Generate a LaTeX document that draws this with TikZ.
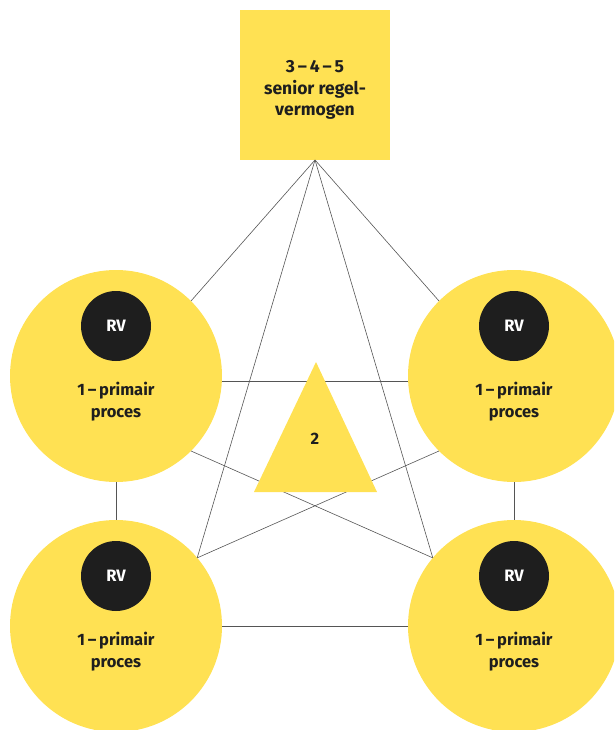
\documentclass[tikz,border=0pt]{standalone}
\usepackage{fontspec}
\setmainfont{Fira Sans}
\definecolor{yel}{RGB}{255,225,83}
\definecolor{dark}{RGB}{30,30,30}
\definecolor{lin}{RGB}{85,85,85}
\begin{document}
\begin{tikzpicture}[x=1pt,y=-1pt,
  bigc/.style={circle,fill=yel,minimum size=212pt,inner sep=0pt,outer sep=0pt},
  rvc/.style={circle,fill=dark,minimum size=70pt,inner sep=0pt,outer sep=0pt,text=white,font=\fontsize{16.5}{18}\selectfont\bfseries},
  lab/.style={align=center,text=dark,font=\fontsize{16.5}{22}\selectfont\bfseries},
  sqlab/.style={align=center,text=dark,font=\fontsize{17.5}{21.5}\selectfont\bfseries},
  conn/.style={draw=lin,line width=0.6pt}]
\useasboundingbox (0,0) rectangle (614,730);
\begin{scope}
\clip (0,0) rectangle (614,730);
\node[fill=yel,minimum size=150pt,inner sep=0pt,outer sep=0pt] (sq) at (315,85) {};
\coordinate (tlc) at (116,376);
\coordinate (trc) at (514,376);
\coordinate (blc) at (116,626);
\coordinate (brc) at (514,626);
\node[bigc] (tl) at (tlc) {};
\node[bigc] (tr) at (trc) {};
\node[bigc] (bl) at (blc) {};
\node[bigc] (br) at (brc) {};
% connectors
\draw[conn] (sq.south) -- (tl.45);
\draw[conn] (sq.south) -- (tr.135);
\draw[conn] (sq.south) -- (bl.40);
\draw[conn] (sq.south) -- (br.140);
\draw[conn] (bl.40) -- (tr.225);
\draw[conn] (br.140) -- (tl.-45);
\draw[conn] (tl.-3.8) -- (tr.183.8);
\draw[conn] (tl.south) -- (bl.north);
\draw[conn] (tr.south) -- (br.north);
\draw[conn] (bl.-0.5) -- (br.180.5);
% triangle
\fill[yel] (316,362) -- (377,492) -- (254,492) -- cycle;
\node[lab] (two) at (315,439) {2};
% texts
\node[sqlab] (sqt) at (315,90) {3\,–\,4\,–\,5\\senior regel-\\vermogen};
\foreach \n/\x/\y in {a/116/376,b/514/376,c/116/626,d/514/626}{
  \node[rvc] (rv\n) at (\x,\y-50) {RV};
  \node[lab] (l\n) at (\x,\y+26) {1\,–\,primair\\proces};
}
\end{scope}
\end{tikzpicture}
\end{document}
